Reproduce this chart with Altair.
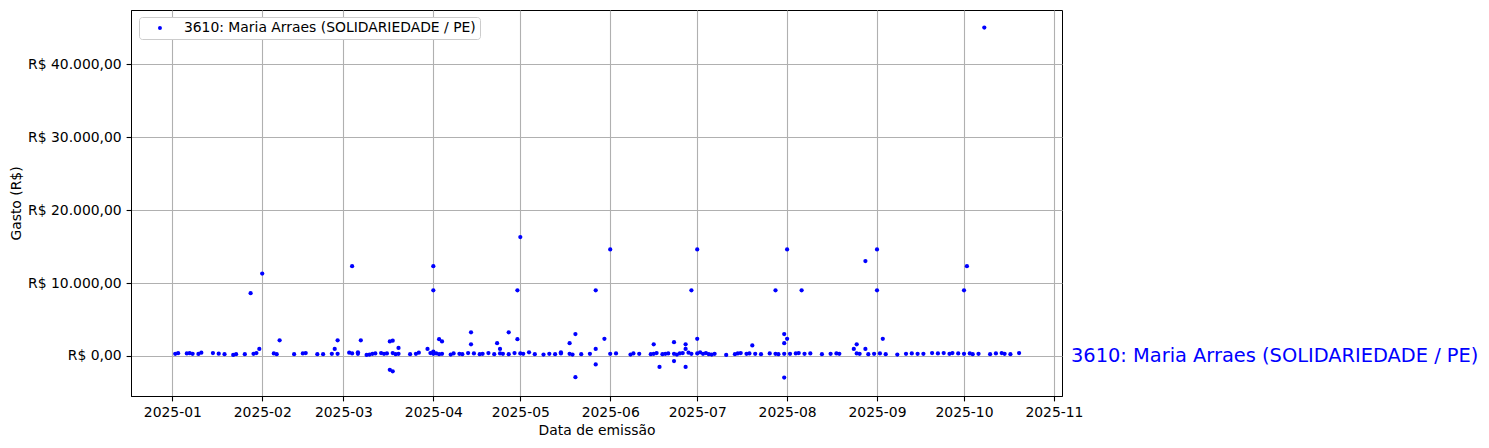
import altair as alt
import pandas as pd

series_name = "3610: Maria Arraes (SOLIDARIEDADE / PE)"

emission_dates = [
    # January
    "2025-01-02", "2025-01-03", "2025-01-06", "2025-01-07", "2025-01-08", "2025-01-10",
    "2025-01-11", "2025-01-15", "2025-01-17", "2025-01-19", "2025-01-22", "2025-01-23",
    "2025-01-26", "2025-01-28", "2025-01-29", "2025-01-30", "2025-01-31",
    # February
    "2025-02-01", "2025-02-05", "2025-02-06", "2025-02-07", "2025-02-12", "2025-02-15",
    "2025-02-16", "2025-02-20", "2025-02-22", "2025-02-25", "2025-02-26", "2025-02-27",
    "2025-02-27",
    # March
    "2025-03-03", "2025-03-04", "2025-03-04", "2025-03-06", "2025-03-06", "2025-03-07",
    "2025-03-09", "2025-03-10", "2025-03-11", "2025-03-12", "2025-03-14", "2025-03-15",
    "2025-03-16", "2025-03-17", "2025-03-17", "2025-03-18", "2025-03-18", "2025-03-18",
    "2025-03-19", "2025-03-20", "2025-03-20", "2025-03-24", "2025-03-26", "2025-03-27",
    "2025-03-30", "2025-03-31",
    # April
    "2025-04-01", "2025-04-01", "2025-04-01", "2025-04-01", "2025-04-02", "2025-04-03",
    "2025-04-03", "2025-04-04", "2025-04-04", "2025-04-07", "2025-04-08", "2025-04-10",
    "2025-04-11", "2025-04-13", "2025-04-14", "2025-04-14", "2025-04-15", "2025-04-17",
    "2025-04-18", "2025-04-20", "2025-04-22", "2025-04-23", "2025-04-24", "2025-04-24",
    "2025-04-25", "2025-04-27", "2025-04-27", "2025-04-29", "2025-04-30", "2025-04-30",
    # May
    "2025-05-01", "2025-05-01", "2025-05-02", "2025-05-04", "2025-05-06", "2025-05-09",
    "2025-05-11", "2025-05-13", "2025-05-15", "2025-05-15", "2025-05-18", "2025-05-18",
    "2025-05-19", "2025-05-20", "2025-05-20", "2025-05-22", "2025-05-25", "2025-05-27",
    "2025-05-27", "2025-05-27", "2025-05-30",
    # June
    "2025-06-01", "2025-06-01", "2025-06-03", "2025-06-08", "2025-06-09", "2025-06-11",
    "2025-06-15", "2025-06-16", "2025-06-16", "2025-06-17", "2025-06-18", "2025-06-19",
    "2025-06-20", "2025-06-21", "2025-06-23", "2025-06-23", "2025-06-23", "2025-06-24",
    "2025-06-25", "2025-06-26", "2025-06-27", "2025-06-27", "2025-06-27", "2025-06-28",
    "2025-06-29", "2025-06-29",
    # July
    "2025-07-01", "2025-07-01", "2025-07-01", "2025-07-02", "2025-07-03", "2025-07-04",
    "2025-07-05", "2025-07-06", "2025-07-07", "2025-07-11", "2025-07-14", "2025-07-15",
    "2025-07-16", "2025-07-18", "2025-07-19", "2025-07-20", "2025-07-21", "2025-07-23",
    "2025-07-26", "2025-07-28", "2025-07-28", "2025-07-29", "2025-07-31", "2025-07-31",
    "2025-07-31", "2025-07-31",
    # August
    "2025-08-01", "2025-08-01", "2025-08-02", "2025-08-04", "2025-08-05", "2025-08-06",
    "2025-08-07", "2025-08-09", "2025-08-13", "2025-08-16", "2025-08-18", "2025-08-19",
    "2025-08-24", "2025-08-25", "2025-08-25", "2025-08-26", "2025-08-28", "2025-08-28",
    "2025-08-29", "2025-08-31",
    # September
    "2025-09-01", "2025-09-01", "2025-09-02", "2025-09-03", "2025-09-04", "2025-09-08",
    "2025-09-11", "2025-09-13", "2025-09-15", "2025-09-17", "2025-09-20", "2025-09-22",
    "2025-09-24", "2025-09-26", "2025-09-27", "2025-09-29",
    # October
    "2025-10-01", "2025-10-01", "2025-10-02", "2025-10-03", "2025-10-04", "2025-10-06",
    "2025-10-08", "2025-10-10", "2025-10-12", "2025-10-14", "2025-10-15", "2025-10-17",
    "2025-10-20",
]

amounts = [
    # January
    300, 380, 350, 380, 300, 280,
    450, 400, 320, 250, 150, 250,
    250, 8600, 300, 400, 960,
    # February
    11300, 350, 250, 2150, 250, 350,
    400, 250, 250, 300, 960, 2150,
    300,
    # March
    450, 12300, 350, 500, 300, 2150,
    150, 200, 300, 350, 400, 300,
    350, 2000, -1900, 2100, -2100, 400,
    250, 1100, 300, 250, 300, 450,
    960, 400,
    # April
    12300, 9000, 600, 300, 350, 2300,
    250, 2000, 300, 200, 350, 300,
    250, 400, 3250, 1600, 350, 250,
    300, 400, 250, 1750, 960, 350,
    300, 3250, 250, 400, 9000, 2300,
    # May
    16300, 350, 300, 500, 250, 200,
    300, 250, 500, 350, 1750, 300,
    200, 3000, -2900, 250, 300, 9000,
    960, -1150, 2350,
    # June
    14600, 300, 350, 200, 350, 300,
    250, 1600, 300, 400, -1500, 250,
    300, 350, 1900, -700, 300, 200,
    350, 400, 1600, 960, -1500, 450,
    9000, 300,
    # July
    14600, 2350, 350, 500, 300, 400,
    250, 200, 300, 150, 250, 350,
    400, 300, 350, 1450, 300, 250,
    350, 9000, 300, 250, 3000, 1750,
    -2950, 300,
    # August
    14600, 2350, 300, 350, 400, 9000,
    300, 350, 250, 300, 350, 300,
    960, 1600, 350, 300, 13000, 960,
    250, 300,
    # September
    14600, 9000, 350, 2350, 250, 200,
    300, 350, 300, 300, 400, 350,
    400, 300, 400, 350,
    # October
    9000, 300, 12300, 350, 250, 300,
    45000, 250, 350, 400, 300, 250,
    400,
]

month_ticks = [alt.DateTime(year=2025, month=m, date=1, utc=True) for m in range(1, 12)]
y_ticks = [0, 10000, 20000, 30000, 40000]

df = pd.DataFrame({"data": emission_dates, "gasto": amounts, "serie": series_name})
ann_df = pd.DataFrame({"label": [series_name], "gasto": [0]})

x_scale = alt.Scale(
    type="utc",
    domain=[
        alt.DateTime(year=2024, month=12, date=17, hours=18, utc=True),
        alt.DateTime(year=2025, month=11, date=3, hours=19, utc=True),
    ],
    nice=False,
)
y_scale = alt.Scale(domain=[-5480, 47400], nice=False, zero=False)

label_expr = (
    "'R$ ' + replace(replace(replace(format(datum.value, ',.2f'), ',', '#'), '.', ','), '#', '.')"
)

points = alt.Chart(df).mark_circle(size=18, opacity=1).encode(
    x=alt.X(
        "data:T",
        scale=x_scale,
        axis=alt.Axis(
            title="Data de emissão",
            format="%Y-%m",
            values=month_ticks,
            labelPadding=4.9,
            titlePadding=4,
            labelAngle=0,
        ),
    ),
    y=alt.Y(
        "gasto:Q",
        scale=y_scale,
        axis=alt.Axis(
            title="Gasto (R$)",
            values=y_ticks,
            labelExpr=label_expr,
            labelPadding=4.9,
            titlePadding=4,
        ),
    ),
    color=alt.Color(
        "serie:N",
        scale=alt.Scale(domain=[series_name], range=["blue"]),
        legend=alt.Legend(
            title=None,
            orient="none",
            legendX=8,
            legendY=7,
            direction="vertical",
            symbolType="circle",
            symbolSize=16,
            symbolStrokeWidth=0,
            labelFont="DejaVu Sans",
            labelFontSize=13.9,
            labelColor="black",
            labelLimit=0,
            padding=4,
            strokeColor="#cccccc",
            fillColor="white",
            cornerRadius=3,
            symbolOffset=10,
            labelOffset=17,
        ),
    ),
)

annotation = alt.Chart(ann_df).mark_text(
    align="left",
    baseline="middle",
    fontSize=19.4,
    color="blue",
    font="DejaVu Sans",
).encode(
    x=alt.value(940),
    y=alt.Y("gasto:Q", scale=y_scale),
    text="label:N",
)

chart = (
    alt.layer(points, annotation)
    .properties(
        width=931,
        height=386,
        autosize=alt.AutoSizeParams(type="none"),
        padding={"left": 123, "top": 2, "right": 419, "bottom": 44},
    )
    .configure_view(stroke="black", strokeWidth=1)
    .configure_axis(
        labelFont="DejaVu Sans",
        labelFontSize=13.9,
        titleFont="DejaVu Sans",
        titleFontSize=13.9,
        titleFontWeight="normal",
        labelColor="black",
        titleColor="black",
        gridColor="#b0b0b0",
        gridWidth=1.1,
        tickColor="black",
        tickSize=4.9,
        tickWidth=1.1,
        domainColor="black",
        domainWidth=1,
        zindex=1,
    )
)

chart.save("out.html", embed_options={"renderer": "svg", "actions": False})
